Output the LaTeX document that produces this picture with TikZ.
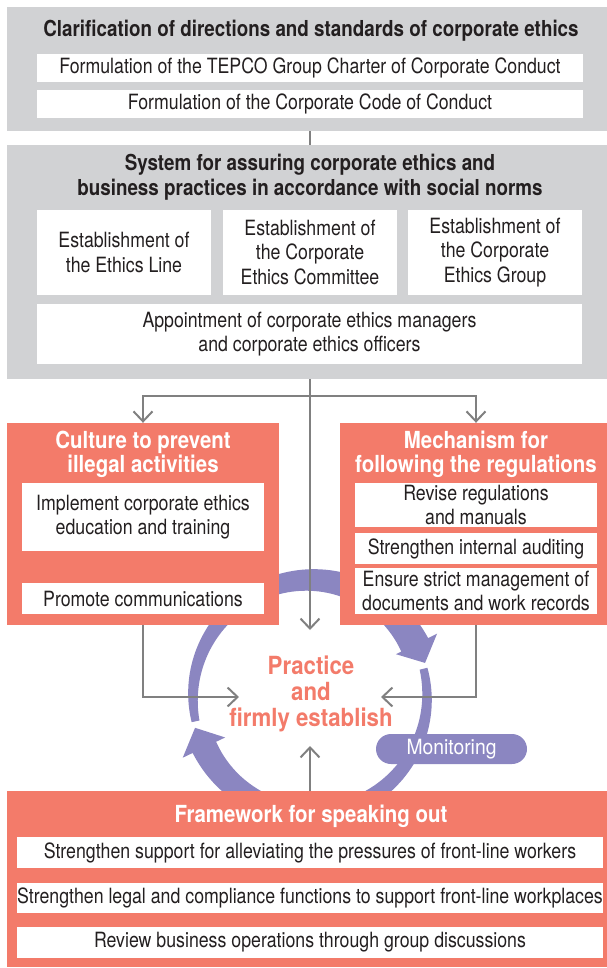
\documentclass[tikz,border=0pt]{standalone}
\usepackage{fontspec}
\setmainfont{TeX Gyre Heros}[FakeStretch=0.845]
\newfontfamily\tfont{TeX Gyre Heros}[FakeStretch=0.855]
\newfontfamily\ctfont{TeX Gyre Heros}[FakeStretch=0.87]
\newfontfamily\prfont{TeX Gyre Heros}[FakeStretch=0.89]
\newfontfamily\monfont{TeX Gyre Heros}[FakeStretch=0.92]
\usetikzlibrary{arrows.meta}
\definecolor{gbox}{HTML}{D1D2D4}
\definecolor{coral}{HTML}{F37B6A}
\definecolor{ringc}{HTML}{8B86C1}
\definecolor{txt}{HTML}{231F20}
\definecolor{lineg}{HTML}{808080}
\tikzset{
  graybox/.style={fill=gbox, draw=none, inner sep=0pt},
  coralbox/.style={fill=coral, draw=none, inner sep=0pt},
  wbox/.style={fill=white, draw=none, inner sep=0pt, align=center, text=txt,
    font=\fontsize{21}{24.5}\selectfont},
  ttl/.style={inner sep=0pt, align=center, text=txt, font=\tfont\bfseries\fontsize{22}{25}\selectfont},
  wttl/.style={inner sep=0pt, align=center, text=white, font=\ctfont\bfseries\fontsize{23.5}{24}\selectfont},
  cline/.style={draw=lineg, line width=2pt},
  carrow/.style={cline, -{Straight Barb[length=10pt,width=19pt]}},
}
\begin{document}
\begin{tikzpicture}[x=1pt,y=-1pt]
\useasboundingbox (0,0) rectangle (607,968);

% ring arrows
\begin{scope}[shift={(310,697)}]
\fill[ringc] plot[domain=192:26.5,samples=80] (-\x:{117+(8+22*(192-\x)/165.5)/2})
  -- (-26.5:142) -- (-16.5:120) -- (-26.5:96)
  -- plot[domain=26.5:192,samples=80] (-\x:{117-(8+22*(192-\x)/165.5)/2}) -- cycle;
\fill[ringc] plot[domain=374:205.5,samples=80] (-\x:{117+(8+18*(374-\x)/168.5)/2})
  -- (-205.5:141) -- (-195:119) -- (-205.5:94)
  -- plot[domain=205.5:374,samples=80] (-\x:{117-(8+18*(374-\x)/168.5)/2}) -- cycle;
\end{scope}

% top gray box
\node[graybox, minimum width=606pt, minimum height=124pt] (g1) at (310,69) {};
\node[ttl] (t1) at (311,31) {Clarification of directions and standards of corporate ethics};
\node[wbox, minimum width=546pt, minimum height=28pt] (f1) at (310,68) {Formulation of the TEPCO Group Charter of Corporate Conduct};
\node[wbox, minimum width=546pt, minimum height=28pt] (f2) at (310,104) {Formulation of the Corporate Code of Conduct};

% second gray box
\node[graybox, minimum width=606pt, minimum height=234pt] (g2) at (310,262) {};
\node[ttl] (t2) at (310,177) {System for assuring corporate ethics and\\business practices in accordance with social norms};
\node[wbox, minimum width=174pt, minimum height=85pt] (ea) at (124,252.5) {Establishment of\\the Ethics Line};
\node[wbox, minimum width=174pt, minimum height=85pt] (eb) at (310,252.5) {Establishment of\\the Corporate\\Ethics Committee};
\node[wbox, minimum width=174pt, minimum height=85pt] (ec) at (495,252.5) {Establishment of\\the Corporate\\Ethics Group};
\node[wbox, minimum width=545pt, minimum height=60pt] (ed) at (309.5,334) {Appointment of corporate ethics managers\\and corporate ethics officers};

% left coral box
\node[coralbox, minimum width=272pt, minimum height=202pt] (L) at (143,524) {};
\node[wttl] (Lt) at (143,454) {Culture to prevent\\illegal activities};
\node[wbox, minimum width=242pt, minimum height=68pt] (L1) at (143,517) {Implement corporate ethics\\education and training};
\node[wbox, minimum width=242pt, minimum height=31pt] (L2) at (143,598.5) {Promote communications};

% right coral box
\node[coralbox, minimum width=272pt, minimum height=202pt] (R) at (476,524) {};
\node[wttl] (Rt) at (476,454) {Mechanism for\\following the regulations};
\node[wbox, minimum width=242pt, minimum height=44pt] (R1) at (476,505) {Revise regulations\\and manuals};
\node[wbox, minimum width=242pt, minimum height=31pt] (R2) at (476,548.5) {Strengthen internal auditing};
\node[wbox, minimum width=242pt, minimum height=46pt] (R3) at (476,591) {Ensure strict management of\\documents and work records};

% bottom coral box
\node[coralbox, minimum width=606pt, minimum height=176pt] (B) at (310,879) {};
\node[wttl] (Bt) at (311,816) {Framework for speaking out};
\node[wbox, minimum width=586pt, minimum height=31pt] (B1) at (310,852.5) {Strengthen support for alleviating the pressures of front-line workers};
\node[wbox, minimum width=586pt, minimum height=30pt] (B2) at (310,898) {Strengthen legal and compliance functions to support front-line workplaces};
\node[wbox, minimum width=586pt, minimum height=31pt] (B3) at (310,942.5) {Review business operations through group discussions};

% centre text and monitoring pill
\node[inner sep=0pt, align=center, text=coral, font=\prfont\bfseries\fontsize{25}{26}\selectfont] (pr) at (311,694) {Practice\\and\\firmly establish};
\node[fill=ringc, rounded corners=15pt, minimum width=151pt, minimum height=30pt, inner sep=0pt,
  text=white, font=\monfont\fontsize{21}{22}\selectfont] (mon) at (451.5,749) {Monitoring};

% connectors
\coordinate (j) at (310,396);
\coordinate (ctop) at (310,630);
\coordinate (cleft) at (239,697);
\coordinate (cright) at (381,697);
\coordinate (cbot) at (310,746);
\draw[cline] (g1.south) -- (g2.north);
\draw[carrow] (g2.south) -- (ctop);
\draw[carrow] (j) -| (L.north);
\draw[carrow] (j) -| (R.north);
\draw[carrow] (L.south) |- (cleft);
\draw[carrow] (R.south) |- (cright);
\draw[carrow] (B.north) -- (cbot);
\end{tikzpicture}
\end{document}
